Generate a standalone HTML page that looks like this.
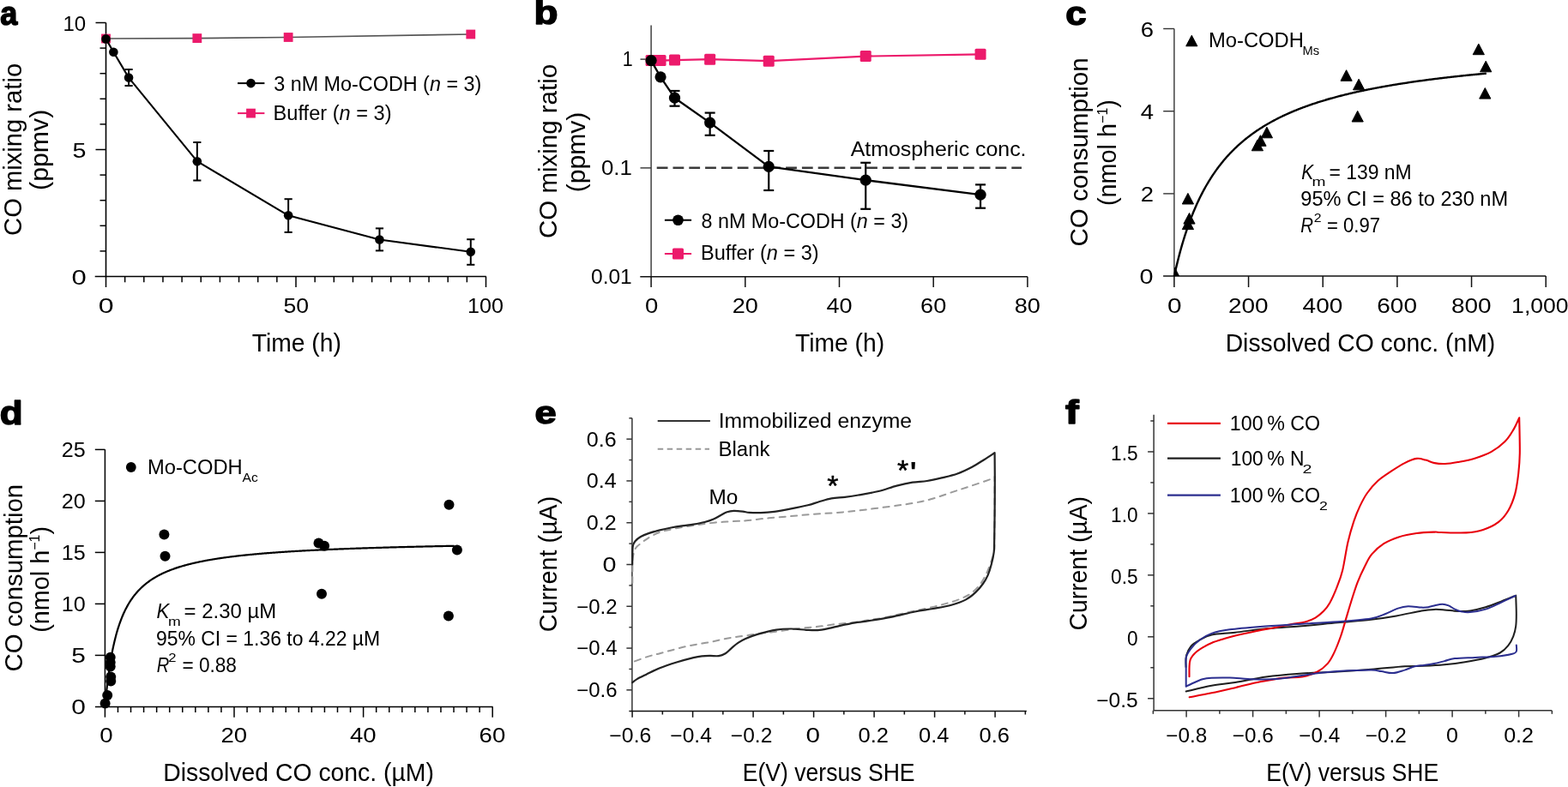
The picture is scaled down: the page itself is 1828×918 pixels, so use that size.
<!DOCTYPE html>
<html><head><meta charset="utf-8"><title>Figure</title>
<style>
html,body{margin:0;padding:0;background:#fff;overflow:hidden}
svg{display:block}
text{font-family:"Liberation Sans", Arial, sans-serif}
</style></head>
<body>
<svg width="1828" height="918" viewBox="0 0 1828 918">
<rect width="1828" height="918" fill="#fff"/>
<text x="0.28" y="28.6" font-size="39" fill="#000" font-weight="bold" textLength="20.07" lengthAdjust="spacingAndGlyphs" stroke="#000" stroke-width="1.5" stroke-linejoin="round">a</text>
<text x="622.43" y="28.4" font-size="39" fill="#000" font-weight="bold" textLength="28" lengthAdjust="spacingAndGlyphs" stroke="#000" stroke-width="1.5" stroke-linejoin="round">b</text>
<text x="1242.32" y="28.6" font-size="39" fill="#000" font-weight="bold" textLength="24.4" lengthAdjust="spacingAndGlyphs" stroke="#000" stroke-width="1.5" stroke-linejoin="round">c</text>
<text x="-0.27" y="494.6" font-size="39" fill="#000" font-weight="bold" textLength="26.83" lengthAdjust="spacingAndGlyphs" stroke="#000" stroke-width="1.5" stroke-linejoin="round">d</text>
<text x="623.47" y="494.4" font-size="37.5" fill="#000" font-weight="bold" textLength="25.16" lengthAdjust="spacingAndGlyphs" stroke="#000" stroke-width="1.5" stroke-linejoin="round">e</text>
<text x="1242.14" y="493.8" font-size="39" fill="#000" font-weight="bold" textLength="15.68" lengthAdjust="spacingAndGlyphs" stroke="#000" stroke-width="1.5" stroke-linejoin="round">f</text>
<line x1="123.5" y1="26.5" x2="123.5" y2="323.25" stroke="#000" stroke-width="1.6"/>
<line x1="110.7" y1="322.5" x2="566.8" y2="322.5" stroke="#000" stroke-width="1.6"/>
<line x1="116.5" y1="292.9" x2="123.5" y2="292.9" stroke="#000" stroke-width="1.5"/>
<line x1="116.5" y1="263.3" x2="123.5" y2="263.3" stroke="#000" stroke-width="1.5"/>
<line x1="116.5" y1="233.7" x2="123.5" y2="233.7" stroke="#000" stroke-width="1.5"/>
<line x1="116.5" y1="204.1" x2="123.5" y2="204.1" stroke="#000" stroke-width="1.5"/>
<line x1="111.5" y1="174.5" x2="123.5" y2="174.5" stroke="#000" stroke-width="1.5"/>
<line x1="116.5" y1="144.9" x2="123.5" y2="144.9" stroke="#000" stroke-width="1.5"/>
<line x1="116.5" y1="115.3" x2="123.5" y2="115.3" stroke="#000" stroke-width="1.5"/>
<line x1="116.5" y1="85.7" x2="123.5" y2="85.7" stroke="#000" stroke-width="1.5"/>
<line x1="116.5" y1="56.1" x2="123.5" y2="56.1" stroke="#000" stroke-width="1.5"/>
<line x1="111.5" y1="26.5" x2="123.5" y2="26.5" stroke="#000" stroke-width="1.5"/>
<line x1="123.5" y1="322.5" x2="123.5" y2="335" stroke="#000" stroke-width="1.5"/>
<line x1="145.65" y1="322.5" x2="145.65" y2="329.3" stroke="#000" stroke-width="1.5"/>
<line x1="167.8" y1="322.5" x2="167.8" y2="329.3" stroke="#000" stroke-width="1.5"/>
<line x1="189.95" y1="322.5" x2="189.95" y2="329.3" stroke="#000" stroke-width="1.5"/>
<line x1="212.1" y1="322.5" x2="212.1" y2="329.3" stroke="#000" stroke-width="1.5"/>
<line x1="234.25" y1="322.5" x2="234.25" y2="329.3" stroke="#000" stroke-width="1.5"/>
<line x1="256.4" y1="322.5" x2="256.4" y2="329.3" stroke="#000" stroke-width="1.5"/>
<line x1="278.55" y1="322.5" x2="278.55" y2="329.3" stroke="#000" stroke-width="1.5"/>
<line x1="300.7" y1="322.5" x2="300.7" y2="329.3" stroke="#000" stroke-width="1.5"/>
<line x1="322.85" y1="322.5" x2="322.85" y2="329.3" stroke="#000" stroke-width="1.5"/>
<line x1="345" y1="322.5" x2="345" y2="335" stroke="#000" stroke-width="1.5"/>
<line x1="367.15" y1="322.5" x2="367.15" y2="329.3" stroke="#000" stroke-width="1.5"/>
<line x1="389.3" y1="322.5" x2="389.3" y2="329.3" stroke="#000" stroke-width="1.5"/>
<line x1="411.45" y1="322.5" x2="411.45" y2="329.3" stroke="#000" stroke-width="1.5"/>
<line x1="433.6" y1="322.5" x2="433.6" y2="329.3" stroke="#000" stroke-width="1.5"/>
<line x1="455.75" y1="322.5" x2="455.75" y2="329.3" stroke="#000" stroke-width="1.5"/>
<line x1="477.9" y1="322.5" x2="477.9" y2="329.3" stroke="#000" stroke-width="1.5"/>
<line x1="500.05" y1="322.5" x2="500.05" y2="329.3" stroke="#000" stroke-width="1.5"/>
<line x1="522.2" y1="322.5" x2="522.2" y2="329.3" stroke="#000" stroke-width="1.5"/>
<line x1="544.35" y1="322.5" x2="544.35" y2="329.3" stroke="#000" stroke-width="1.5"/>
<line x1="566.5" y1="322.5" x2="566.5" y2="335" stroke="#000" stroke-width="1.5"/>
<text x="100.79" y="332.1" font-size="23" fill="#000" text-anchor="end" textLength="17.25" lengthAdjust="spacingAndGlyphs">0</text>
<text x="100.57" y="184.1" font-size="23" fill="#000" text-anchor="end" textLength="15.95" lengthAdjust="spacingAndGlyphs">5</text>
<text x="100.22" y="36.1" font-size="23" fill="#000" text-anchor="end" textLength="26.73" lengthAdjust="spacingAndGlyphs">10</text>
<text x="123.66" y="364.8" font-size="23" fill="#000" text-anchor="middle" textLength="17.84" lengthAdjust="spacingAndGlyphs">0</text>
<text x="345.24" y="364.8" font-size="23" fill="#000" text-anchor="middle" textLength="29.58" lengthAdjust="spacingAndGlyphs">50</text>
<text x="566.01" y="364.8" font-size="23" fill="#000" text-anchor="middle" textLength="41.89" lengthAdjust="spacingAndGlyphs">100</text>
<text x="345.81" y="409.6" font-size="28.8" fill="#000" text-anchor="middle" textLength="104.14" lengthAdjust="spacingAndGlyphs">Time (h)</text>
<text transform="translate(25.2,174.4) rotate(-90)" x="0" y="0" font-size="28.8" text-anchor="middle" textLength="201.04" lengthAdjust="spacingAndGlyphs">CO mixing ratio</text>
<text transform="translate(55.8,174.79) rotate(-90)" x="0" y="0" font-size="28.8" text-anchor="middle" textLength="94.27" lengthAdjust="spacingAndGlyphs">(ppmv)</text>
<polyline points="123.5,45 229.82,44.6 336.14,43.5 548.78,40" fill="none" stroke="#555" stroke-width="1.6" stroke-linejoin="round"/>
<rect x="118.1" y="39.6" width="10.8" height="10.8" rx="0" fill="#EC1A6B"/>
<rect x="224.42" y="39.2" width="10.8" height="10.8" rx="0" fill="#EC1A6B"/>
<rect x="330.74" y="38.1" width="10.8" height="10.8" rx="0" fill="#EC1A6B"/>
<rect x="543.38" y="34.6" width="10.8" height="10.8" rx="0" fill="#EC1A6B"/>
<polyline points="123.5,45.4 132.36,60.7 150.08,90.6 229.82,188.2 336.14,251.3 442.46,279.5 548.78,293.8" fill="none" stroke="#000" stroke-width="2.1" stroke-linejoin="round"/>
<circle cx="123.5" cy="45.4" r="5.3" fill="#000"/>
<circle cx="132.36" cy="60.7" r="5.3" fill="#000"/>
<line x1="150.08" y1="81" x2="150.08" y2="100" stroke="#000" stroke-width="2"/>
<line x1="145.48" y1="81" x2="154.68" y2="81" stroke="#000" stroke-width="2"/>
<line x1="145.48" y1="100" x2="154.68" y2="100" stroke="#000" stroke-width="2"/>
<circle cx="150.08" cy="90.6" r="5.3" fill="#000"/>
<line x1="229.82" y1="166" x2="229.82" y2="210.5" stroke="#000" stroke-width="2"/>
<line x1="225.22" y1="166" x2="234.42" y2="166" stroke="#000" stroke-width="2"/>
<line x1="225.22" y1="210.5" x2="234.42" y2="210.5" stroke="#000" stroke-width="2"/>
<circle cx="229.82" cy="188.2" r="5.3" fill="#000"/>
<line x1="336.14" y1="232.2" x2="336.14" y2="270.9" stroke="#000" stroke-width="2"/>
<line x1="331.54" y1="232.2" x2="340.74" y2="232.2" stroke="#000" stroke-width="2"/>
<line x1="331.54" y1="270.9" x2="340.74" y2="270.9" stroke="#000" stroke-width="2"/>
<circle cx="336.14" cy="251.3" r="5.3" fill="#000"/>
<line x1="442.46" y1="266.4" x2="442.46" y2="292.4" stroke="#000" stroke-width="2"/>
<line x1="437.86" y1="266.4" x2="447.06" y2="266.4" stroke="#000" stroke-width="2"/>
<line x1="437.86" y1="292.4" x2="447.06" y2="292.4" stroke="#000" stroke-width="2"/>
<circle cx="442.46" cy="279.5" r="5.3" fill="#000"/>
<line x1="548.78" y1="279.2" x2="548.78" y2="308.8" stroke="#000" stroke-width="2"/>
<line x1="544.18" y1="279.2" x2="553.38" y2="279.2" stroke="#000" stroke-width="2"/>
<line x1="544.18" y1="308.8" x2="553.38" y2="308.8" stroke="#000" stroke-width="2"/>
<circle cx="548.78" cy="293.8" r="5.3" fill="#000"/>
<line x1="277" y1="97.1" x2="308.4" y2="97.1" stroke="#000" stroke-width="2"/>
<circle cx="292.5" cy="97.1" r="5.3" fill="#000"/>
<line x1="277" y1="132.1" x2="308.4" y2="132.1" stroke="#EC1A6B" stroke-width="2"/>
<rect x="287.1" y="126.7" width="10.8" height="10.8" rx="0" fill="#EC1A6B"/>
<text x="319.16" y="105.9" font-size="23.3" fill="#000" textLength="242.17" lengthAdjust="spacingAndGlyphs">3 nM Mo-CODH (<tspan font-style="italic">n</tspan> = 3)</text>
<text x="318.61" y="140.4" font-size="23.3" fill="#000" textLength="137.96" lengthAdjust="spacingAndGlyphs">Buffer (<tspan font-style="italic">n</tspan> = 3)</text>
<line x1="759.1" y1="29.4" x2="759.1" y2="323.4" stroke="#333" stroke-width="1.4"/>
<line x1="746.3" y1="322.7" x2="1197.9" y2="322.7" stroke="#111" stroke-width="1.5"/>
<line x1="746.5" y1="69.1" x2="759.1" y2="69.1" stroke="#333" stroke-width="1.4"/>
<line x1="746.5" y1="195.9" x2="759.1" y2="195.9" stroke="#333" stroke-width="1.4"/>
<line x1="759.1" y1="322.7" x2="759.1" y2="335" stroke="#111" stroke-width="1.5"/>
<line x1="868.8" y1="322.7" x2="868.8" y2="335" stroke="#111" stroke-width="1.5"/>
<line x1="978.5" y1="322.7" x2="978.5" y2="335" stroke="#111" stroke-width="1.5"/>
<line x1="1088.2" y1="322.7" x2="1088.2" y2="335" stroke="#111" stroke-width="1.5"/>
<line x1="1197.9" y1="322.7" x2="1197.9" y2="335" stroke="#111" stroke-width="1.5"/>
<text x="737.56" y="77.3" font-size="23" fill="#000" text-anchor="end" textLength="11.93" lengthAdjust="spacingAndGlyphs">1</text>
<text x="736.86" y="204.1" font-size="23" fill="#000" text-anchor="end" textLength="35.96" lengthAdjust="spacingAndGlyphs">0.1</text>
<text x="736.78" y="331" font-size="23" fill="#000" text-anchor="end" textLength="47.77" lengthAdjust="spacingAndGlyphs">0.01</text>
<text x="759.62" y="364.8" font-size="23" fill="#000" text-anchor="middle" textLength="15.3" lengthAdjust="spacingAndGlyphs">0</text>
<text x="868.77" y="364.8" font-size="23" fill="#000" text-anchor="middle" textLength="30.14" lengthAdjust="spacingAndGlyphs">20</text>
<text x="978.47" y="364.8" font-size="23" fill="#000" text-anchor="middle" textLength="30.14" lengthAdjust="spacingAndGlyphs">40</text>
<text x="1088.17" y="364.8" font-size="23" fill="#000" text-anchor="middle" textLength="30.14" lengthAdjust="spacingAndGlyphs">60</text>
<text x="1197.87" y="364.8" font-size="23" fill="#000" text-anchor="middle" textLength="30.14" lengthAdjust="spacingAndGlyphs">80</text>
<text x="979.02" y="409.6" font-size="28.8" fill="#000" text-anchor="middle" textLength="104.14" lengthAdjust="spacingAndGlyphs">Time (h)</text>
<text transform="translate(649,176.4) rotate(-90)" x="0" y="0" font-size="28.8" text-anchor="middle" textLength="203.04" lengthAdjust="spacingAndGlyphs">CO mixing ratio</text>
<text transform="translate(681.6,177.5) rotate(-90)" x="0" y="0" font-size="28.8" text-anchor="middle" textLength="93.61" lengthAdjust="spacingAndGlyphs">(ppmv)</text>
<line x1="765.7" y1="195.8" x2="1191" y2="195.8" stroke="#3a3a3a" stroke-width="2.4" stroke-dasharray="12.8 6"/>
<text x="991.69" y="182" font-size="23.3" fill="#000" textLength="204.86" lengthAdjust="spacingAndGlyphs">Atmospheric conc.</text>
<polyline points="759.1,70.6 770.07,70.6 786.52,70.1 827.66,69.2 896.23,71.2 1009.22,65.6 1143.05,63.3" fill="none" stroke="#EC1A6B" stroke-width="2.2" stroke-linejoin="round"/>
<rect x="752.6" y="64.1" width="13" height="13" rx="1.5" fill="#EC1A6B"/>
<rect x="763.57" y="64.1" width="13" height="13" rx="1.5" fill="#EC1A6B"/>
<rect x="780.02" y="63.6" width="13" height="13" rx="1.5" fill="#EC1A6B"/>
<rect x="821.16" y="62.7" width="13" height="13" rx="1.5" fill="#EC1A6B"/>
<rect x="889.73" y="64.7" width="13" height="13" rx="1.5" fill="#EC1A6B"/>
<rect x="1002.72" y="59.1" width="13" height="13" rx="1.5" fill="#EC1A6B"/>
<rect x="1136.55" y="56.8" width="13" height="13" rx="1.5" fill="#EC1A6B"/>
<polyline points="759.1,70.6 770.07,89.8 786.52,114.2 827.66,143.1 896.23,194.4 1009.22,210.1 1143.05,227.2" fill="none" stroke="#000" stroke-width="2.3" stroke-linejoin="round"/>
<circle cx="759.1" cy="70.6" r="6.6" fill="#000"/>
<circle cx="770.07" cy="89.8" r="6.6" fill="#000"/>
<line x1="786.52" y1="106" x2="786.52" y2="123.7" stroke="#000" stroke-width="2.2"/>
<line x1="780.52" y1="106" x2="792.52" y2="106" stroke="#000" stroke-width="2.2"/>
<line x1="780.52" y1="123.7" x2="792.52" y2="123.7" stroke="#000" stroke-width="2.2"/>
<circle cx="786.52" cy="114.2" r="6.6" fill="#000"/>
<line x1="827.66" y1="131.6" x2="827.66" y2="157.8" stroke="#000" stroke-width="2.2"/>
<line x1="821.66" y1="131.6" x2="833.66" y2="131.6" stroke="#000" stroke-width="2.2"/>
<line x1="821.66" y1="157.8" x2="833.66" y2="157.8" stroke="#000" stroke-width="2.2"/>
<circle cx="827.66" cy="143.1" r="6.6" fill="#000"/>
<line x1="896.23" y1="176" x2="896.23" y2="222" stroke="#000" stroke-width="2.2"/>
<line x1="890.23" y1="176" x2="902.23" y2="176" stroke="#000" stroke-width="2.2"/>
<line x1="890.23" y1="222" x2="902.23" y2="222" stroke="#000" stroke-width="2.2"/>
<circle cx="896.23" cy="194.4" r="6.6" fill="#000"/>
<line x1="1009.22" y1="189.8" x2="1009.22" y2="243.8" stroke="#000" stroke-width="2.2"/>
<line x1="1003.22" y1="189.8" x2="1015.22" y2="189.8" stroke="#000" stroke-width="2.2"/>
<line x1="1003.22" y1="243.8" x2="1015.22" y2="243.8" stroke="#000" stroke-width="2.2"/>
<circle cx="1009.22" cy="210.1" r="6.6" fill="#000"/>
<line x1="1143.05" y1="215.4" x2="1143.05" y2="242.7" stroke="#000" stroke-width="2.2"/>
<line x1="1137.05" y1="215.4" x2="1149.05" y2="215.4" stroke="#000" stroke-width="2.2"/>
<line x1="1137.05" y1="242.7" x2="1149.05" y2="242.7" stroke="#000" stroke-width="2.2"/>
<circle cx="1143.05" cy="227.2" r="6.6" fill="#000"/>
<line x1="774.9" y1="256.8" x2="806.1" y2="256.8" stroke="#000" stroke-width="2"/>
<circle cx="790.5" cy="256.8" r="6.3" fill="#000"/>
<line x1="774.9" y1="296.1" x2="806.1" y2="296.1" stroke="#EC1A6B" stroke-width="2"/>
<rect x="784" y="289.6" width="13" height="13" rx="1.5" fill="#EC1A6B"/>
<text x="817.47" y="266" font-size="23.3" fill="#000" textLength="241.66" lengthAdjust="spacingAndGlyphs">8 nM Mo-CODH (<tspan font-style="italic">n</tspan> = 3)</text>
<text x="817.03" y="303.3" font-size="23.3" fill="#000" textLength="137.64" lengthAdjust="spacingAndGlyphs">Buffer (<tspan font-style="italic">n</tspan> = 3)</text>
<line x1="1368.9" y1="33.5" x2="1368.9" y2="322.8" stroke="#333" stroke-width="1.4"/>
<line x1="1356.1" y1="322.1" x2="1802.2" y2="322.1" stroke="#111" stroke-width="1.5"/>
<line x1="1356.2" y1="225.9" x2="1368.9" y2="225.9" stroke="#333" stroke-width="1.4"/>
<line x1="1356.2" y1="129.7" x2="1368.9" y2="129.7" stroke="#333" stroke-width="1.4"/>
<line x1="1356.2" y1="33.5" x2="1368.9" y2="33.5" stroke="#333" stroke-width="1.4"/>
<line x1="1368.9" y1="322.1" x2="1368.9" y2="335" stroke="#111" stroke-width="1.5"/>
<line x1="1455.56" y1="322.1" x2="1455.56" y2="335" stroke="#111" stroke-width="1.5"/>
<line x1="1542.22" y1="322.1" x2="1542.22" y2="335" stroke="#111" stroke-width="1.5"/>
<line x1="1628.88" y1="322.1" x2="1628.88" y2="335" stroke="#111" stroke-width="1.5"/>
<line x1="1715.54" y1="322.1" x2="1715.54" y2="335" stroke="#111" stroke-width="1.5"/>
<line x1="1802.2" y1="322.1" x2="1802.2" y2="335" stroke="#111" stroke-width="1.5"/>
<text x="1344.57" y="331.3" font-size="23" fill="#000" text-anchor="end" textLength="16.01" lengthAdjust="spacingAndGlyphs">0</text>
<text x="1344.92" y="235.1" font-size="23" fill="#000" text-anchor="end" textLength="15.26" lengthAdjust="spacingAndGlyphs">2</text>
<text x="1344.92" y="138.9" font-size="23" fill="#000" text-anchor="end" textLength="15.26" lengthAdjust="spacingAndGlyphs">4</text>
<text x="1344.92" y="42.7" font-size="23" fill="#000" text-anchor="end" textLength="15.26" lengthAdjust="spacingAndGlyphs">6</text>
<text x="1369.42" y="364.6" font-size="23" fill="#000" text-anchor="middle" textLength="16.58" lengthAdjust="spacingAndGlyphs">0</text>
<text x="1455.29" y="364.6" font-size="23" fill="#000" text-anchor="middle" textLength="46.67" lengthAdjust="spacingAndGlyphs">200</text>
<text x="1541.95" y="364.6" font-size="23" fill="#000" text-anchor="middle" textLength="46.67" lengthAdjust="spacingAndGlyphs">400</text>
<text x="1628.61" y="364.6" font-size="23" fill="#000" text-anchor="middle" textLength="46.67" lengthAdjust="spacingAndGlyphs">600</text>
<text x="1715.27" y="364.6" font-size="23" fill="#000" text-anchor="middle" textLength="46.67" lengthAdjust="spacingAndGlyphs">800</text>
<text x="1828.6" y="364.6" font-size="23" fill="#000" text-anchor="end" textLength="66.47" lengthAdjust="spacingAndGlyphs">1,000</text>
<text x="1585.95" y="409.6" font-size="28.8" fill="#000" text-anchor="middle" textLength="314.58" lengthAdjust="spacingAndGlyphs">Dissolved CO conc. (nM)</text>
<text transform="translate(1267.8,177.5) rotate(-90)" x="0" y="0" font-size="28.8" text-anchor="middle" textLength="220.15" lengthAdjust="spacingAndGlyphs">CO consumption</text>
<text transform="translate(1301,178.05) rotate(-90)" x="0" y="0" font-size="28.8" text-anchor="middle">(nmol h<tspan font-size="16" dy="-10.5">−1</tspan><tspan dy="10.5">)</tspan></text>
<clipPath id="clipc"><rect x="1369" y="20" width="440" height="302.1"/></clipPath>
<polyline points="1368.9,322.1 1369.77,318.19 1370.63,314.39 1371.5,310.7 1372.37,307.1 1373.23,303.6 1374.1,300.2 1374.97,296.88 1375.83,293.65 1376.7,290.5 1377.57,287.43 1378.43,284.44 1379.3,281.52 1380.17,278.67 1381.03,275.89 1381.9,273.17 1382.77,270.52 1383.63,267.93 1384.5,265.4 1385.37,262.93 1386.23,260.51 1387.1,258.15 1387.97,255.83 1388.83,253.57 1389.7,251.35 1390.57,249.19 1391.43,247.06 1392.3,244.99 1393.16,242.95 1394.03,240.96 1394.9,239 1395.76,237.09 1396.63,235.21 1397.5,233.37 1398.36,231.56 1399.23,229.79 1400.1,228.05 1400.96,226.35 1401.83,224.67 1402.7,223.03 1403.56,221.42 1404.43,219.84 1405.3,218.28 1406.16,216.75 1407.03,215.25 1407.9,213.78 1408.76,212.33 1409.63,210.91 1410.5,209.51 1411.36,208.13 1412.23,206.78 1413.1,205.45 1413.96,204.14 1414.83,202.86 1415.7,201.59 1416.56,200.34 1417.43,199.12 1418.3,197.91 1419.16,196.72 1420.03,195.55 1420.9,194.4 1421.76,193.27 1422.63,192.15 1423.5,191.05 1424.36,189.97 1425.23,188.9 1426.1,187.85 1426.96,186.82 1427.83,185.8 1428.7,184.79 1429.56,183.8 1430.43,182.82 1431.3,181.86 1432.16,180.91 1433.03,179.97 1433.89,179.05 1434.76,178.14 1435.63,177.24 1436.49,176.35 1437.36,175.48 1438.23,174.61 1439.09,173.76 1439.96,172.92 1440.83,172.09 1441.69,171.28 1442.56,170.47 1443.43,169.67 1444.29,168.88 1445.16,168.11 1446.03,167.34 1446.89,166.58 1447.76,165.83 1448.63,165.09 1449.49,164.36 1450.36,163.64 1451.23,162.93 1452.09,162.23 1452.96,161.53 1453.83,160.85 1454.69,160.17 1455.56,159.5 1456.43,158.83 1457.29,158.18 1458.16,157.53 1459.03,156.89 1459.89,156.26 1460.76,155.63 1461.63,155.01 1462.49,154.4 1463.36,153.8 1464.23,153.2 1465.09,152.61 1465.96,152.02 1466.83,151.45 1467.69,150.87 1468.56,150.31 1469.43,149.75 1470.29,149.2 1471.16,148.65 1472.03,148.11 1472.89,147.57 1473.76,147.04 1474.63,146.51 1475.49,145.99 1476.36,145.48 1477.23,144.97 1478.09,144.47 1478.96,143.97 1479.82,143.47 1480.69,142.99 1481.56,142.5 1482.42,142.02 1483.29,141.55 1484.16,141.08 1485.02,140.62 1485.89,140.15 1486.76,139.7 1487.62,139.25 1488.49,138.8 1489.36,138.36 1490.22,137.92 1491.09,137.49 1491.96,137.05 1492.82,136.63 1493.69,136.21 1494.56,135.79 1495.42,135.37 1496.29,134.96 1497.16,134.56 1498.02,134.15 1498.89,133.75 1499.76,133.36 1500.62,132.97 1501.49,132.58 1502.36,132.19 1503.22,131.81 1504.09,131.43 1504.96,131.06 1505.82,130.69 1506.69,130.32 1507.56,129.95 1508.42,129.59 1509.29,129.23 1510.16,128.87 1511.02,128.52 1511.89,128.17 1512.76,127.83 1513.62,127.48 1514.49,127.14 1515.36,126.8 1516.22,126.47 1517.09,126.13 1517.96,125.8 1518.82,125.48 1519.69,125.15 1520.56,124.83 1521.42,124.51 1522.29,124.2 1523.15,123.88 1524.02,123.57 1524.89,123.26 1525.75,122.95 1526.62,122.65 1527.49,122.35 1528.35,122.05 1529.22,121.75 1530.09,121.46 1530.95,121.17 1531.82,120.88 1532.69,120.59 1533.55,120.3 1534.42,120.02 1535.29,119.74 1536.15,119.46 1537.02,119.18 1537.89,118.91 1538.75,118.63 1539.62,118.36 1540.49,118.09 1541.35,117.83 1542.22,117.56 1543.09,117.3 1543.95,117.04 1544.82,116.78 1545.69,116.52 1546.55,116.27 1547.42,116.02 1548.29,115.76 1549.15,115.51 1550.02,115.27 1550.89,115.02 1551.75,114.78 1552.62,114.53 1553.49,114.29 1554.35,114.05 1555.22,113.82 1556.09,113.58 1556.95,113.35 1557.82,113.11 1558.69,112.88 1559.55,112.65 1560.42,112.43 1561.29,112.2 1562.15,111.97 1563.02,111.75 1563.89,111.53 1564.75,111.31 1565.62,111.09 1566.48,110.87 1567.35,110.66 1568.22,110.44 1569.08,110.23 1569.95,110.02 1570.82,109.81 1571.68,109.6 1572.55,109.39 1573.42,109.19 1574.28,108.98 1575.15,108.78 1576.02,108.58 1576.88,108.38 1577.75,108.18 1578.62,107.98 1579.48,107.78 1580.35,107.59 1581.22,107.39 1582.08,107.2 1582.95,107.01 1583.82,106.82 1584.68,106.63 1585.55,106.44 1586.42,106.25 1587.28,106.07 1588.15,105.88 1589.02,105.7 1589.88,105.52 1590.75,105.34 1591.62,105.16 1592.48,104.98 1593.35,104.8 1594.22,104.62 1595.08,104.44 1595.95,104.27 1596.82,104.1 1597.68,103.92 1598.55,103.75 1599.42,103.58 1600.28,103.41 1601.15,103.24 1602.02,103.08 1602.88,102.91 1603.75,102.74 1604.62,102.58 1605.48,102.41 1606.35,102.25 1607.22,102.09 1608.08,101.93 1608.95,101.77 1609.81,101.61 1610.68,101.45 1611.55,101.29 1612.41,101.14 1613.28,100.98 1614.15,100.83 1615.01,100.67 1615.88,100.52 1616.75,100.37 1617.61,100.22 1618.48,100.07 1619.35,99.92 1620.21,99.77 1621.08,99.62 1621.95,99.47 1622.81,99.33 1623.68,99.18 1624.55,99.04 1625.41,98.89 1626.28,98.75 1627.15,98.61 1628.01,98.47 1628.88,98.33 1629.75,98.19 1630.61,98.05 1631.48,97.91 1632.35,97.77 1633.21,97.64 1634.08,97.5 1634.95,97.36 1635.81,97.23 1636.68,97.09 1637.55,96.96 1638.41,96.83 1639.28,96.7 1640.15,96.57 1641.01,96.44 1641.88,96.31 1642.75,96.18 1643.61,96.05 1644.48,95.92 1645.35,95.79 1646.21,95.67 1647.08,95.54 1647.95,95.41 1648.81,95.29 1649.68,95.17 1650.55,95.04 1651.41,94.92 1652.28,94.8 1653.14,94.68 1654.01,94.56 1654.88,94.43 1655.74,94.31 1656.61,94.2 1657.48,94.08 1658.34,93.96 1659.21,93.84 1660.08,93.73 1660.94,93.61 1661.81,93.49 1662.68,93.38 1663.54,93.26 1664.41,93.15 1665.28,93.04 1666.14,92.92 1667.01,92.81 1667.88,92.7 1668.74,92.59 1669.61,92.48 1670.48,92.37 1671.34,92.26 1672.21,92.15 1673.08,92.04 1673.94,91.93 1674.81,91.82 1675.68,91.72 1676.54,91.61 1677.41,91.5 1678.28,91.4 1679.14,91.29 1680.01,91.19 1680.88,91.09 1681.74,90.98 1682.61,90.88 1683.48,90.78 1684.34,90.67 1685.21,90.57 1686.08,90.47 1686.94,90.37 1687.81,90.27 1688.68,90.17 1689.54,90.07 1690.41,89.97 1691.28,89.87 1692.14,89.78 1693.01,89.68 1693.88,89.58 1694.74,89.48 1695.61,89.39 1696.47,89.29 1697.34,89.2 1698.21,89.1 1699.07,89.01 1699.94,88.91 1700.81,88.82 1701.67,88.73 1702.54,88.63 1703.41,88.54 1704.27,88.45 1705.14,88.36 1706.01,88.26 1706.87,88.17 1707.74,88.08 1708.61,87.99 1709.47,87.9 1710.34,87.81 1711.21,87.73 1712.07,87.64 1712.94,87.55 1713.81,87.46 1714.67,87.37 1715.54,87.29 1716.41,87.2 1717.27,87.11 1718.14,87.03 1719.01,86.94 1719.87,86.86 1720.74,86.77 1721.61,86.69 1722.47,86.6 1723.34,86.52 1724.21,86.44 1725.07,86.35 1725.94,86.27 1726.81,86.19 1727.67,86.1 1728.54,86.02 1729.41,85.94 1730.27,85.86 1731.14,85.78 1732.01,85.7 1732.87,85.62" fill="none" stroke="#000" stroke-width="2.4" stroke-linejoin="round"/>
<polygon points="1384.9,225.4 1391.5,238 1378.3,238" fill="#000" stroke="#000" stroke-width="1" stroke-linejoin="round"/>
<polygon points="1386.5,248.5 1393.1,261.1 1379.9,261.1" fill="#000" stroke="#000" stroke-width="1" stroke-linejoin="round"/>
<polygon points="1384.9,255 1391.5,267.6 1378.3,267.6" fill="#000" stroke="#000" stroke-width="1" stroke-linejoin="round"/>
<polygon points="1476.9,148.2 1483.5,160.8 1470.3,160.8" fill="#000" stroke="#000" stroke-width="1" stroke-linejoin="round"/>
<polygon points="1469.5,157.7 1476.1,170.3 1462.9,170.3" fill="#000" stroke="#000" stroke-width="1" stroke-linejoin="round"/>
<polygon points="1465.9,163.2 1472.5,175.8 1459.3,175.8" fill="#000" stroke="#000" stroke-width="1" stroke-linejoin="round"/>
<polygon points="1569.6,81.7 1576.2,94.3 1563,94.3" fill="#000" stroke="#000" stroke-width="1" stroke-linejoin="round"/>
<polygon points="1584.1,92.2 1590.7,104.8 1577.5,104.8" fill="#000" stroke="#000" stroke-width="1" stroke-linejoin="round"/>
<polygon points="1582.7,129.4 1589.3,142 1576.1,142" fill="#000" stroke="#000" stroke-width="1" stroke-linejoin="round"/>
<polygon points="1723.8,51.1 1730.4,63.7 1717.2,63.7" fill="#000" stroke="#000" stroke-width="1" stroke-linejoin="round"/>
<polygon points="1732.2,71.2 1738.8,83.8 1725.6,83.8" fill="#000" stroke="#000" stroke-width="1" stroke-linejoin="round"/>
<polygon points="1731.3,102.5 1737.9,115.1 1724.7,115.1" fill="#000" stroke="#000" stroke-width="1" stroke-linejoin="round"/>
<polygon points="1369.5,312.2 1376.1,324.8 1362.9,324.8" fill="#000" stroke="#000" stroke-width="1" stroke-linejoin="round" clip-path="url(#clipc)"/>
<polygon points="1389.3,41.2 1395.9,53.8 1382.7,53.8" fill="#000" stroke="#000" stroke-width="1" stroke-linejoin="round"/>
<text x="1409" y="55.2" font-size="23.3" fill="#000" textLength="110.85" lengthAdjust="spacingAndGlyphs">Mo-CODH</text>
<text x="1518.42" y="63.8" font-size="14" fill="#000" textLength="19.59" lengthAdjust="spacingAndGlyphs">Ms</text>
<text x="1517.2" y="209.2" font-size="23.3" fill="#000" font-style="italic" textLength="13.97" lengthAdjust="spacingAndGlyphs">K</text>
<text x="1529.62" y="216.7" font-size="14" fill="#000" textLength="15.99" lengthAdjust="spacingAndGlyphs">m</text>
<text x="1549.4" y="209.2" font-size="23.3" fill="#000" textLength="96.25" lengthAdjust="spacingAndGlyphs">= 139 nM</text>
<text x="1516.27" y="239.7" font-size="23.3" fill="#000" textLength="241.88" lengthAdjust="spacingAndGlyphs">95% CI = 86 to 230 nM</text>
<text x="1516.2" y="270.6" font-size="23.3" fill="#000" font-style="italic" textLength="14.77" lengthAdjust="spacingAndGlyphs">R</text>
<text x="1531.76" y="258.7" font-size="14" fill="#000" textLength="8.81" lengthAdjust="spacingAndGlyphs">2</text>
<text x="1546.9" y="270.6" font-size="23.3" fill="#000" textLength="62.08" lengthAdjust="spacingAndGlyphs">= 0.97</text>
<line x1="122.4" y1="524.2" x2="122.4" y2="825.1" stroke="#000" stroke-width="1.5"/>
<line x1="110.9" y1="824.4" x2="574.6" y2="824.4" stroke="#000" stroke-width="1.5"/>
<line x1="110.8" y1="764.4" x2="122.4" y2="764.4" stroke="#000" stroke-width="1.5"/>
<line x1="110.8" y1="704.4" x2="122.4" y2="704.4" stroke="#000" stroke-width="1.5"/>
<line x1="110.8" y1="644.4" x2="122.4" y2="644.4" stroke="#000" stroke-width="1.5"/>
<line x1="110.8" y1="584.4" x2="122.4" y2="584.4" stroke="#000" stroke-width="1.5"/>
<line x1="110.8" y1="524.4" x2="122.4" y2="524.4" stroke="#000" stroke-width="1.5"/>
<line x1="122.4" y1="824.4" x2="122.4" y2="836.7" stroke="#000" stroke-width="1.5"/>
<line x1="137.46" y1="824.4" x2="137.46" y2="831" stroke="#000" stroke-width="1.5"/>
<line x1="152.52" y1="824.4" x2="152.52" y2="831" stroke="#000" stroke-width="1.5"/>
<line x1="167.58" y1="824.4" x2="167.58" y2="831" stroke="#000" stroke-width="1.5"/>
<line x1="182.64" y1="824.4" x2="182.64" y2="831" stroke="#000" stroke-width="1.5"/>
<line x1="197.7" y1="824.4" x2="197.7" y2="831" stroke="#000" stroke-width="1.5"/>
<line x1="212.76" y1="824.4" x2="212.76" y2="831" stroke="#000" stroke-width="1.5"/>
<line x1="227.82" y1="824.4" x2="227.82" y2="831" stroke="#000" stroke-width="1.5"/>
<line x1="242.88" y1="824.4" x2="242.88" y2="831" stroke="#000" stroke-width="1.5"/>
<line x1="257.94" y1="824.4" x2="257.94" y2="831" stroke="#000" stroke-width="1.5"/>
<line x1="273" y1="824.4" x2="273" y2="836.7" stroke="#000" stroke-width="1.5"/>
<line x1="288.06" y1="824.4" x2="288.06" y2="831" stroke="#000" stroke-width="1.5"/>
<line x1="303.12" y1="824.4" x2="303.12" y2="831" stroke="#000" stroke-width="1.5"/>
<line x1="318.18" y1="824.4" x2="318.18" y2="831" stroke="#000" stroke-width="1.5"/>
<line x1="333.24" y1="824.4" x2="333.24" y2="831" stroke="#000" stroke-width="1.5"/>
<line x1="348.3" y1="824.4" x2="348.3" y2="831" stroke="#000" stroke-width="1.5"/>
<line x1="363.36" y1="824.4" x2="363.36" y2="831" stroke="#000" stroke-width="1.5"/>
<line x1="378.42" y1="824.4" x2="378.42" y2="831" stroke="#000" stroke-width="1.5"/>
<line x1="393.48" y1="824.4" x2="393.48" y2="831" stroke="#000" stroke-width="1.5"/>
<line x1="408.54" y1="824.4" x2="408.54" y2="831" stroke="#000" stroke-width="1.5"/>
<line x1="423.6" y1="824.4" x2="423.6" y2="836.7" stroke="#000" stroke-width="1.5"/>
<line x1="438.66" y1="824.4" x2="438.66" y2="831" stroke="#000" stroke-width="1.5"/>
<line x1="453.72" y1="824.4" x2="453.72" y2="831" stroke="#000" stroke-width="1.5"/>
<line x1="468.78" y1="824.4" x2="468.78" y2="831" stroke="#000" stroke-width="1.5"/>
<line x1="483.84" y1="824.4" x2="483.84" y2="831" stroke="#000" stroke-width="1.5"/>
<line x1="498.9" y1="824.4" x2="498.9" y2="831" stroke="#000" stroke-width="1.5"/>
<line x1="513.96" y1="824.4" x2="513.96" y2="831" stroke="#000" stroke-width="1.5"/>
<line x1="529.02" y1="824.4" x2="529.02" y2="831" stroke="#000" stroke-width="1.5"/>
<line x1="544.08" y1="824.4" x2="544.08" y2="831" stroke="#000" stroke-width="1.5"/>
<line x1="559.14" y1="824.4" x2="559.14" y2="831" stroke="#000" stroke-width="1.5"/>
<line x1="574.2" y1="824.4" x2="574.2" y2="836.7" stroke="#000" stroke-width="1.5"/>
<text x="99.95" y="833.2" font-size="23" fill="#000" text-anchor="end" textLength="16.62" lengthAdjust="spacingAndGlyphs">0</text>
<text x="99.95" y="773.2" font-size="23" fill="#000" text-anchor="end" textLength="16.62" lengthAdjust="spacingAndGlyphs">5</text>
<text x="99.63" y="713.2" font-size="23" fill="#000" text-anchor="end" textLength="27.95" lengthAdjust="spacingAndGlyphs">10</text>
<text x="99.63" y="653.2" font-size="23" fill="#000" text-anchor="end" textLength="27.95" lengthAdjust="spacingAndGlyphs">15</text>
<text x="99.63" y="593.2" font-size="23" fill="#000" text-anchor="end" textLength="27.95" lengthAdjust="spacingAndGlyphs">20</text>
<text x="99.63" y="533.2" font-size="23" fill="#000" text-anchor="end" textLength="27.95" lengthAdjust="spacingAndGlyphs">25</text>
<text x="124.01" y="865.6" font-size="23" fill="#000" text-anchor="middle" textLength="15.39" lengthAdjust="spacingAndGlyphs">0</text>
<text x="272.75" y="865.6" font-size="23" fill="#000" text-anchor="middle" textLength="30.68" lengthAdjust="spacingAndGlyphs">20</text>
<text x="423.35" y="865.6" font-size="23" fill="#000" text-anchor="middle" textLength="30.68" lengthAdjust="spacingAndGlyphs">40</text>
<text x="573.95" y="865.6" font-size="23" fill="#000" text-anchor="middle" textLength="30.68" lengthAdjust="spacingAndGlyphs">60</text>
<text x="348.04" y="910.8" font-size="28.8" fill="#000" text-anchor="middle" textLength="315.58" lengthAdjust="spacingAndGlyphs">Dissolved CO conc. (µM)</text>
<text transform="translate(25.5,674.24) rotate(-90)" x="0" y="0" font-size="28.8" text-anchor="middle" textLength="218.6" lengthAdjust="spacingAndGlyphs">CO consumption</text>
<text transform="translate(56.6,675.85) rotate(-90)" x="0" y="0" font-size="28.8" text-anchor="middle">(nmol h<tspan font-size="16" dy="-10.5">−1</tspan><tspan dy="10.5">)</tspan></text>
<polyline points="122.4,824.4 123.15,816.25 123.91,808.75 124.66,801.83 125.41,795.42 126.17,789.47 126.92,783.93 127.67,778.76 128.42,773.92 129.18,769.39 129.93,765.13 130.68,761.12 131.44,757.34 132.19,753.77 132.94,750.39 133.69,747.19 134.45,744.15 135.2,741.27 135.95,738.53 136.71,735.91 137.46,733.42 138.21,731.05 138.97,728.77 139.72,726.6 140.47,724.52 141.22,722.52 141.98,720.61 142.73,718.78 143.48,717.01 144.24,715.32 144.99,713.68 145.74,712.11 146.5,710.6 147.25,709.14 148,707.73 148.75,706.37 149.51,705.05 150.26,703.78 151.01,702.55 151.77,701.36 152.52,700.21 153.27,699.09 154.03,698.01 154.78,696.96 155.53,695.95 156.28,694.96 157.04,694 157.79,693.07 158.54,692.16 159.3,691.28 160.05,690.43 160.8,689.59 161.56,688.78 162.31,687.99 163.06,687.23 163.81,686.48 164.57,685.75 165.32,685.03 166.07,684.34 166.83,683.66 167.58,683 168.33,682.36 169.09,681.73 169.84,681.11 170.59,680.51 171.34,679.92 172.1,679.35 172.85,678.79 173.6,678.24 174.36,677.7 175.11,677.17 175.86,676.66 176.62,676.16 177.37,675.66 178.12,675.18 178.88,674.71 179.63,674.24 180.38,673.79 181.13,673.34 181.89,672.91 182.64,672.48 183.39,672.06 184.15,671.65 184.9,671.24 185.65,670.84 186.41,670.46 187.16,670.07 187.91,669.7 188.66,669.33 189.42,668.97 190.17,668.61 190.92,668.26 191.68,667.92 192.43,667.58 193.18,667.25 193.94,666.93 194.69,666.61 195.44,666.29 196.19,665.98 196.95,665.68 197.7,665.38 198.45,665.08 199.21,664.79 199.96,664.5 200.71,664.22 201.47,663.95 202.22,663.67 202.97,663.41 203.72,663.14 204.48,662.88 205.23,662.63 205.98,662.37 206.74,662.12 207.49,661.88 208.24,661.64 209,661.4 209.75,661.17 210.5,660.93 211.25,660.71 212.01,660.48 212.76,660.26 213.51,660.04 214.27,659.83 215.02,659.61 215.77,659.4 216.53,659.2 217.28,658.99 218.03,658.79 218.78,658.59 219.54,658.4 220.29,658.2 221.04,658.01 221.8,657.82 222.55,657.64 223.3,657.45 224.06,657.27 224.81,657.09 225.56,656.92 226.31,656.74 227.07,656.57 227.82,656.4 228.57,656.23 229.33,656.07 230.08,655.9 230.83,655.74 231.59,655.58 232.34,655.42 233.09,655.26 233.84,655.11 234.6,654.96 235.35,654.8 236.1,654.66 236.86,654.51 237.61,654.36 238.36,654.22 239.12,654.07 239.87,653.93 240.62,653.79 241.37,653.66 242.13,653.52 242.88,653.38 243.63,653.25 244.39,653.12 245.14,652.99 245.89,652.86 246.65,652.73 247.4,652.6 248.15,652.48 248.9,652.35 249.66,652.23 250.41,652.11 251.16,651.99 251.92,651.87 252.67,651.75 253.42,651.64 254.18,651.52 254.93,651.41 255.68,651.29 256.43,651.18 257.19,651.07 257.94,650.96 258.69,650.85 259.45,650.75 260.2,650.64 260.95,650.53 261.71,650.43 262.46,650.33 263.21,650.22 263.96,650.12 264.72,650.02 265.47,649.92 266.22,649.82 266.98,649.72 267.73,649.63 268.48,649.53 269.24,649.44 269.99,649.34 270.74,649.25 271.49,649.16 272.25,649.06 273,648.97 273.75,648.88 274.51,648.79 275.26,648.71 276.01,648.62 276.76,648.53 277.52,648.45 278.27,648.36 279.02,648.28 279.78,648.19 280.53,648.11 281.28,648.03 282.04,647.94 282.79,647.86 283.54,647.78 284.3,647.7 285.05,647.62 285.8,647.54 286.55,647.47 287.31,647.39 288.06,647.31 288.81,647.24 289.57,647.16 290.32,647.09 291.07,647.01 291.83,646.94 292.58,646.87 293.33,646.8 294.08,646.72 294.84,646.65 295.59,646.58 296.34,646.51 297.1,646.44 297.85,646.37 298.6,646.31 299.36,646.24 300.11,646.17 300.86,646.1 301.61,646.04 302.37,645.97 303.12,645.91 303.87,645.84 304.63,645.78 305.38,645.71 306.13,645.65 306.88,645.59 307.64,645.52 308.39,645.46 309.14,645.4 309.9,645.34 310.65,645.28 311.4,645.22 312.16,645.16 312.91,645.1 313.66,645.04 314.42,644.98 315.17,644.92 315.92,644.87 316.67,644.81 317.43,644.75 318.18,644.7 318.93,644.64 319.69,644.59 320.44,644.53 321.19,644.48 321.95,644.42 322.7,644.37 323.45,644.31 324.2,644.26 324.96,644.21 325.71,644.15 326.46,644.1 327.22,644.05 327.97,644 328.72,643.95 329.48,643.9 330.23,643.85 330.98,643.8 331.73,643.75 332.49,643.7 333.24,643.65 333.99,643.6 334.75,643.55 335.5,643.5 336.25,643.45 337,643.41 337.76,643.36 338.51,643.31 339.26,643.27 340.02,643.22 340.77,643.17 341.52,643.13 342.28,643.08 343.03,643.04 343.78,642.99 344.54,642.95 345.29,642.9 346.04,642.86 346.79,642.81 347.55,642.77 348.3,642.73 349.05,642.69 349.81,642.64 350.56,642.6 351.31,642.56 352.07,642.52 352.82,642.47 353.57,642.43 354.32,642.39 355.08,642.35 355.83,642.31 356.58,642.27 357.34,642.23 358.09,642.19 358.84,642.15 359.6,642.11 360.35,642.07 361.1,642.03 361.85,641.99 362.61,641.95 363.36,641.92 364.11,641.88 364.87,641.84 365.62,641.8 366.37,641.76 367.12,641.73 367.88,641.69 368.63,641.65 369.38,641.62 370.14,641.58 370.89,641.54 371.64,641.51 372.4,641.47 373.15,641.44 373.9,641.4 374.65,641.37 375.41,641.33 376.16,641.3 376.91,641.26 377.67,641.23 378.42,641.19 379.17,641.16 379.93,641.13 380.68,641.09 381.43,641.06 382.19,641.02 382.94,640.99 383.69,640.96 384.44,640.93 385.2,640.89 385.95,640.86 386.7,640.83 387.46,640.8 388.21,640.76 388.96,640.73 389.72,640.7 390.47,640.67 391.22,640.64 391.97,640.61 392.73,640.58 393.48,640.55 394.23,640.52 394.99,640.49 395.74,640.45 396.49,640.42 397.25,640.39 398,640.37 398.75,640.34 399.5,640.31 400.26,640.28 401.01,640.25 401.76,640.22 402.52,640.19 403.27,640.16 404.02,640.13 404.77,640.1 405.53,640.08 406.28,640.05 407.03,640.02 407.79,639.99 408.54,639.96 409.29,639.94 410.05,639.91 410.8,639.88 411.55,639.85 412.31,639.83 413.06,639.8 413.81,639.77 414.56,639.75 415.32,639.72 416.07,639.69 416.82,639.67 417.58,639.64 418.33,639.61 419.08,639.59 419.84,639.56 420.59,639.54 421.34,639.51 422.09,639.49 422.85,639.46 423.6,639.44 424.35,639.41 425.11,639.39 425.86,639.36 426.61,639.34 427.37,639.31 428.12,639.29 428.87,639.26 429.62,639.24 430.38,639.21 431.13,639.19 431.88,639.17 432.64,639.14 433.39,639.12 434.14,639.09 434.89,639.07 435.65,639.05 436.4,639.02 437.15,639 437.91,638.98 438.66,638.96 439.41,638.93 440.17,638.91 440.92,638.89 441.67,638.86 442.43,638.84 443.18,638.82 443.93,638.8 444.68,638.78 445.44,638.75 446.19,638.73 446.94,638.71 447.7,638.69 448.45,638.67 449.2,638.64 449.96,638.62 450.71,638.6 451.46,638.58 452.21,638.56 452.97,638.54 453.72,638.52 454.47,638.5 455.23,638.47 455.98,638.45 456.73,638.43 457.49,638.41 458.24,638.39 458.99,638.37 459.74,638.35 460.5,638.33 461.25,638.31 462,638.29 462.76,638.27 463.51,638.25 464.26,638.23 465.01,638.21 465.77,638.19 466.52,638.17 467.27,638.15 468.03,638.13 468.78,638.11 469.53,638.1 470.29,638.08 471.04,638.06 471.79,638.04 472.55,638.02 473.3,638 474.05,637.98 474.8,637.96 475.56,637.94 476.31,637.93 477.06,637.91 477.82,637.89 478.57,637.87 479.32,637.85 480.08,637.83 480.83,637.82 481.58,637.8 482.33,637.78 483.09,637.76 483.84,637.74 484.59,637.73 485.35,637.71 486.1,637.69 486.85,637.67 487.61,637.66 488.36,637.64 489.11,637.62 489.86,637.6 490.62,637.59 491.37,637.57 492.12,637.55 492.88,637.54 493.63,637.52 494.38,637.5 495.13,637.48 495.89,637.47 496.64,637.45 497.39,637.43 498.15,637.42 498.9,637.4 499.65,637.39 500.41,637.37 501.16,637.35 501.91,637.34 502.66,637.32 503.42,637.3 504.17,637.29 504.92,637.27 505.68,637.26 506.43,637.24 507.18,637.22 507.94,637.21 508.69,637.19 509.44,637.18 510.2,637.16 510.95,637.15 511.7,637.13 512.45,637.12 513.21,637.1 513.96,637.09 514.71,637.07 515.47,637.05 516.22,637.04 516.97,637.02 517.73,637.01 518.48,636.99 519.23,636.98 519.98,636.96 520.74,636.95 521.49,636.94 522.24,636.92 523,636.91 523.75,636.89 524.5,636.88 525.25,636.86 526.01,636.85 526.76,636.83 527.51,636.82 528.27,636.8 529.02,636.79 529.77,636.78" fill="none" stroke="#000" stroke-width="2.2" stroke-linejoin="round"/>
<circle cx="122.6" cy="820.6" r="6" fill="#000"/>
<circle cx="125.2" cy="811" r="6" fill="#000"/>
<circle cx="129.2" cy="789.6" r="6" fill="#000"/>
<circle cx="129.2" cy="794.5" r="6" fill="#000"/>
<circle cx="128.7" cy="766.7" r="6" fill="#000"/>
<circle cx="128.7" cy="772.7" r="6" fill="#000"/>
<circle cx="128.7" cy="777.6" r="6" fill="#000"/>
<circle cx="191.4" cy="623.5" r="6" fill="#000"/>
<circle cx="192.5" cy="648.8" r="6" fill="#000"/>
<circle cx="371.5" cy="633.5" r="6" fill="#000"/>
<circle cx="378.1" cy="636.7" r="6" fill="#000"/>
<circle cx="375" cy="692.7" r="6" fill="#000"/>
<circle cx="523.5" cy="588.8" r="6" fill="#000"/>
<circle cx="532.9" cy="641.4" r="6" fill="#000"/>
<circle cx="522.9" cy="718.4" r="6" fill="#000"/>
<circle cx="152.8" cy="545" r="5.9" fill="#000"/>
<text x="171.99" y="552.8" font-size="23.3" fill="#000" textLength="110.66" lengthAdjust="spacingAndGlyphs">Mo-CODH</text>
<text x="282.53" y="561.8" font-size="14" fill="#000" textLength="18.22" lengthAdjust="spacingAndGlyphs">Ac</text>
<text x="182.62" y="721.1" font-size="23.3" fill="#000" font-style="italic" textLength="14.85" lengthAdjust="spacingAndGlyphs">K</text>
<text x="196.14" y="729.8" font-size="14" fill="#000" textLength="14.73" lengthAdjust="spacingAndGlyphs">m</text>
<text x="214.62" y="721.1" font-size="23.3" fill="#000" textLength="107.6" lengthAdjust="spacingAndGlyphs">= 2.30 µM</text>
<text x="182.07" y="752.8" font-size="23.3" fill="#000" textLength="261.08" lengthAdjust="spacingAndGlyphs">95% CI = 1.36 to 4.22 µM</text>
<text x="182.78" y="783.7" font-size="23.3" fill="#000" font-style="italic" textLength="14.53" lengthAdjust="spacingAndGlyphs">R</text>
<text x="196.32" y="772" font-size="14" fill="#000" textLength="9.25" lengthAdjust="spacingAndGlyphs">2</text>
<text x="212.41" y="783.7" font-size="23.3" fill="#000" textLength="63.55" lengthAdjust="spacingAndGlyphs">= 0.88</text>
<line x1="736.9" y1="487.8" x2="736.9" y2="829.5" stroke="#333" stroke-width="1.5"/>
<line x1="733.4" y1="829.5" x2="1196.8" y2="829.5" stroke="#111" stroke-width="1.5"/>
<line x1="730.4" y1="804.84" x2="736.9" y2="804.84" stroke="#333" stroke-width="1.5"/>
<line x1="733.4" y1="780.45" x2="736.9" y2="780.45" stroke="#333" stroke-width="1.5"/>
<line x1="730.4" y1="756.06" x2="736.9" y2="756.06" stroke="#333" stroke-width="1.5"/>
<line x1="733.4" y1="731.67" x2="736.9" y2="731.67" stroke="#333" stroke-width="1.5"/>
<line x1="730.4" y1="707.28" x2="736.9" y2="707.28" stroke="#333" stroke-width="1.5"/>
<line x1="733.4" y1="682.89" x2="736.9" y2="682.89" stroke="#333" stroke-width="1.5"/>
<line x1="730.4" y1="658.5" x2="736.9" y2="658.5" stroke="#333" stroke-width="1.5"/>
<line x1="733.4" y1="634.11" x2="736.9" y2="634.11" stroke="#333" stroke-width="1.5"/>
<line x1="730.4" y1="609.72" x2="736.9" y2="609.72" stroke="#333" stroke-width="1.5"/>
<line x1="733.4" y1="585.33" x2="736.9" y2="585.33" stroke="#333" stroke-width="1.5"/>
<line x1="730.4" y1="560.94" x2="736.9" y2="560.94" stroke="#333" stroke-width="1.5"/>
<line x1="733.4" y1="536.55" x2="736.9" y2="536.55" stroke="#333" stroke-width="1.5"/>
<line x1="730.4" y1="512.16" x2="736.9" y2="512.16" stroke="#333" stroke-width="1.5"/>
<line x1="733.4" y1="487.77" x2="736.9" y2="487.77" stroke="#333" stroke-width="1.5"/>
<line x1="737.1" y1="829.5" x2="737.1" y2="836.8" stroke="#111" stroke-width="1.5"/>
<line x1="772.35" y1="829.5" x2="772.35" y2="833.5" stroke="#111" stroke-width="1.5"/>
<line x1="807.6" y1="829.5" x2="807.6" y2="836.8" stroke="#111" stroke-width="1.5"/>
<line x1="842.85" y1="829.5" x2="842.85" y2="833.5" stroke="#111" stroke-width="1.5"/>
<line x1="878.1" y1="829.5" x2="878.1" y2="836.8" stroke="#111" stroke-width="1.5"/>
<line x1="913.35" y1="829.5" x2="913.35" y2="833.5" stroke="#111" stroke-width="1.5"/>
<line x1="948.6" y1="829.5" x2="948.6" y2="836.8" stroke="#111" stroke-width="1.5"/>
<line x1="983.85" y1="829.5" x2="983.85" y2="833.5" stroke="#111" stroke-width="1.5"/>
<line x1="1019.1" y1="829.5" x2="1019.1" y2="836.8" stroke="#111" stroke-width="1.5"/>
<line x1="1054.35" y1="829.5" x2="1054.35" y2="833.5" stroke="#111" stroke-width="1.5"/>
<line x1="1089.6" y1="829.5" x2="1089.6" y2="836.8" stroke="#111" stroke-width="1.5"/>
<line x1="1124.85" y1="829.5" x2="1124.85" y2="833.5" stroke="#111" stroke-width="1.5"/>
<line x1="1160.1" y1="829.5" x2="1160.1" y2="836.8" stroke="#111" stroke-width="1.5"/>
<line x1="1195.35" y1="829.5" x2="1195.35" y2="833.5" stroke="#111" stroke-width="1.5"/>
<text x="719.63" y="813.24" font-size="23" fill="#000" text-anchor="end" textLength="47.36" lengthAdjust="spacingAndGlyphs">−0.6</text>
<text x="734.85" y="865.6" font-size="23" fill="#000" text-anchor="middle" textLength="48.98" lengthAdjust="spacingAndGlyphs">−0.6</text>
<text x="719.63" y="764.46" font-size="23" fill="#000" text-anchor="end" textLength="47.36" lengthAdjust="spacingAndGlyphs">−0.4</text>
<text x="805.61" y="865.6" font-size="23" fill="#000" text-anchor="middle" textLength="48.44" lengthAdjust="spacingAndGlyphs">−0.4</text>
<text x="719.63" y="715.68" font-size="23" fill="#000" text-anchor="end" textLength="47.36" lengthAdjust="spacingAndGlyphs">−0.2</text>
<text x="876.11" y="865.6" font-size="23" fill="#000" text-anchor="middle" textLength="48.44" lengthAdjust="spacingAndGlyphs">−0.2</text>
<text x="718.52" y="666.9" font-size="23" fill="#000" text-anchor="end" textLength="15.99" lengthAdjust="spacingAndGlyphs">0</text>
<text x="947.72" y="865.6" font-size="23" fill="#000" text-anchor="middle" textLength="16.53" lengthAdjust="spacingAndGlyphs">0</text>
<text x="718.71" y="618.12" font-size="23" fill="#000" text-anchor="end" textLength="34.87" lengthAdjust="spacingAndGlyphs">0.2</text>
<text x="1018.34" y="865.6" font-size="23" fill="#000" text-anchor="middle" textLength="35.48" lengthAdjust="spacingAndGlyphs">0.2</text>
<text x="718.71" y="569.34" font-size="23" fill="#000" text-anchor="end" textLength="34.87" lengthAdjust="spacingAndGlyphs">0.4</text>
<text x="1088.84" y="865.6" font-size="23" fill="#000" text-anchor="middle" textLength="35.48" lengthAdjust="spacingAndGlyphs">0.4</text>
<text x="718.71" y="520.56" font-size="23" fill="#000" text-anchor="end" textLength="34.87" lengthAdjust="spacingAndGlyphs">0.6</text>
<text x="1159.34" y="865.6" font-size="23" fill="#000" text-anchor="middle" textLength="35.48" lengthAdjust="spacingAndGlyphs">0.6</text>
<text x="966.13" y="910.8" font-size="28.8" fill="#000" text-anchor="middle" textLength="200.89" lengthAdjust="spacingAndGlyphs">E(V) versus SHE</text>
<text transform="translate(649,657.99) rotate(-90)" x="0" y="0" font-size="28.8" text-anchor="middle" textLength="158.71" lengthAdjust="spacingAndGlyphs">Current (µA)</text>
<line x1="766.7" y1="491" x2="827.9" y2="491" stroke="#333" stroke-width="2.2"/>
<line x1="766.7" y1="523.7" x2="827" y2="523.7" stroke="#999" stroke-width="2" stroke-dasharray="6.5 4.5"/>
<text x="837.65" y="498.9" font-size="23.3" fill="#000" textLength="225.49" lengthAdjust="spacingAndGlyphs">Immobilized enzyme</text>
<text x="837.52" y="532.2" font-size="23.3" fill="#000" textLength="60.05" lengthAdjust="spacingAndGlyphs">Blank</text>
<text x="826.49" y="587.6" font-size="23.3" fill="#000" textLength="33.84" lengthAdjust="spacingAndGlyphs">Mo</text>
<path d="M737.3,680 C737.32,676.67 737.35,664.75 737.4,660 C737.45,655.25 737.25,654.33 737.6,651.5 C737.95,648.67 738.58,645.4 739.5,643 C740.42,640.6 740.33,639.72 743.1,637.1 C745.87,634.48 751.75,630.02 756.1,627.3 C760.45,624.58 764.83,622.43 769.2,620.8 C773.57,619.17 777.95,618.48 782.3,617.5 C786.65,616.52 790.95,615.67 795.3,614.9 C799.65,614.13 804.03,613.55 808.4,612.9 C812.77,612.25 817.15,611.58 821.5,611 C825.85,610.42 830.15,609.8 834.5,609.4 C838.85,609 843.23,608.88 847.6,608.6 C851.97,608.32 856.97,607.92 860.7,607.7 C864.43,607.48 864.1,607.87 870,607.3 C875.9,606.73 887.38,605.17 896.1,604.3 C904.82,603.43 913.58,602.87 922.3,602.1 C931.02,601.33 939.7,600.37 948.4,599.7 C957.1,599.03 965.78,598.8 974.5,598.1 C983.22,597.4 990.07,596.73 1000.7,595.5 C1011.33,594.27 1027.32,592.2 1038.3,590.7 C1049.28,589.2 1058.33,588.03 1066.6,586.5 C1074.87,584.97 1080.82,583.52 1087.9,581.5 C1094.98,579.48 1102.02,576.77 1109.1,574.4 C1116.18,572.03 1122.37,570.02 1130.4,567.3 C1138.43,564.58 1152.43,559.98 1157.3,558.1 C1162.17,556.22 1159.22,556.35 1159.6,556 L1159.6,556 C1159.6,563.33 1159.67,587.67 1159.6,600 C1159.53,612.33 1159.35,622.63 1159.2,630 C1159.05,637.37 1159.97,638.3 1158.7,644.2 C1157.43,650.1 1154.2,659.27 1151.6,665.4 C1149,671.53 1146.4,676.52 1143.1,681 C1139.8,685.48 1136.05,689.23 1131.8,692.3 C1127.55,695.37 1122.32,697.47 1117.6,699.4 C1112.88,701.33 1108.22,702.53 1103.5,703.9 C1098.78,705.27 1095.45,706.17 1089.3,707.6 C1083.15,709.03 1076.48,710.33 1066.6,712.5 C1056.72,714.67 1038.27,718.92 1030,720.6 C1021.73,722.28 1021.5,721.87 1017,722.6 C1012.5,723.33 1007.8,724.3 1003,725 C998.2,725.7 993.15,726.27 988.2,726.8 C983.25,727.33 978.12,727.62 973.3,728.2 C968.48,728.78 963.83,729.73 959.3,730.3 C954.77,730.87 950.77,731.13 946.1,731.6 C941.43,732.07 936.25,732.52 931.3,733.1 C926.35,733.68 921.52,734.4 916.4,735.1 C911.28,735.8 905.42,736.72 900.6,737.3 C895.78,737.88 892.23,737.97 887.5,738.6 C882.77,739.23 877.2,740.37 872.2,741.1 C867.2,741.83 862.42,742.23 857.5,743 C852.58,743.77 847.62,744.72 842.7,745.7 C837.78,746.68 832.9,747.95 828,748.9 C823.1,749.85 818.2,750.5 813.3,751.4 C808.4,752.3 803.5,753.17 798.6,754.3 C793.7,755.43 788.8,756.88 783.9,758.2 C779,759.52 774.1,760.88 769.2,762.2 C764.3,763.52 759.65,764.47 754.5,766.1 C749.35,767.73 741,771.02 738.3,772" fill="none" stroke="#9a9a9a" stroke-width="2" stroke-linejoin="round" stroke-linecap="round" stroke-dasharray="7 6.5"/>
<path d="M737.2,658.5 C737.22,656.9 737.2,652.47 737.3,648.9 C737.4,645.33 737.27,640.05 737.8,637.1 C738.33,634.15 738.97,633.05 740.5,631.2 C742.03,629.35 744.4,627.52 747,626 C749.6,624.48 752.4,623.37 756.1,622.1 C759.8,620.83 764.83,619.5 769.2,618.4 C773.57,617.3 777.95,616.35 782.3,615.5 C786.65,614.65 790.95,613.95 795.3,613.3 C799.65,612.65 804.03,612.32 808.4,611.6 C812.77,610.88 817.58,610.02 821.5,609 C825.42,607.98 828.63,606.92 831.9,605.5 C835.17,604.08 838.48,601.88 841.1,600.5 C843.72,599.12 845.22,597.97 847.6,597.2 C849.98,596.43 852.35,596 855.4,595.9 C858.45,595.8 862.85,596.27 865.9,596.6 C868.95,596.93 870.18,597.65 873.7,597.9 C877.22,598.15 882.17,598.28 887,598.1 C891.83,597.92 896.82,597.58 902.7,596.8 C908.58,596.02 915.77,594.65 922.3,593.4 C928.83,592.15 936.47,590.65 941.9,589.3 C947.33,587.95 950.33,586.62 954.9,585.3 C959.47,583.98 964.28,582.32 969.3,581.4 C974.32,580.48 979.77,580.45 985,579.8 C990.23,579.15 994.17,578.63 1000.7,577.5 C1007.23,576.37 1016.75,574.82 1024.2,573 C1031.65,571.18 1038.8,568.32 1045.4,566.6 C1052,564.88 1057.9,563.63 1063.8,562.7 C1069.7,561.77 1075.13,561.88 1080.8,561 C1086.47,560.12 1091.9,558.82 1097.8,557.4 C1103.7,555.98 1110.3,554.62 1116.2,552.5 C1122.1,550.38 1128.02,547.42 1133.2,544.7 C1138.38,541.98 1142.9,538.95 1147.3,536.2 C1151.7,533.45 1157.55,529.53 1159.6,528.2 L1159.6,528.2 C1159.63,533.5 1159.8,548.03 1159.8,560 C1159.8,571.97 1159.7,588.33 1159.6,600 C1159.5,611.67 1159.35,622.63 1159.2,630 C1159.05,637.37 1159.27,639.48 1158.7,644.2 C1158.13,648.92 1156.98,653.82 1155.8,658.3 C1154.62,662.78 1153.25,667.32 1151.6,671.1 C1149.95,674.88 1148.27,677.7 1145.9,681 C1143.53,684.3 1140.7,687.83 1137.4,690.9 C1134.1,693.97 1130.82,696.92 1126.1,699.4 C1121.38,701.88 1115.47,704.03 1109.1,705.8 C1102.73,707.57 1094.98,708.72 1087.9,710 C1080.82,711.28 1074.87,711.85 1066.6,713.5 C1058.33,715.15 1047.73,718.05 1038.3,719.9 C1028.87,721.75 1016.9,723.53 1010,724.6 C1003.1,725.67 1002,725.43 996.9,726.3 C991.8,727.17 984.5,728.7 979.4,729.8 C974.3,730.9 970.67,732.02 966.3,732.9 C961.93,733.78 957.58,734.78 953.2,735.1 C948.82,735.42 945.12,735.07 940,734.8 C934.88,734.53 928.33,733.53 922.5,733.5 C916.67,733.47 911.57,733.53 905,734.6 C898.43,735.67 889.07,738.17 883.1,739.9 C877.13,741.63 872.98,743.33 869.2,745 C865.42,746.67 863.18,748.02 860.4,749.9 C857.62,751.78 854.95,754.25 852.5,756.3 C850.05,758.35 848.15,760.73 845.7,762.2 C843.25,763.67 840.75,764.65 837.8,765.1 C834.85,765.55 831.27,764.87 828,764.9 C824.73,764.93 821.47,764.93 818.2,765.3 C814.93,765.67 813.3,765.9 808.4,767.1 C803.5,768.3 795.33,770.47 788.8,772.5 C782.27,774.53 775.08,776.93 769.2,779.3 C763.32,781.67 757.92,784.57 753.5,786.7 C749.08,788.83 745.42,790.52 742.7,792.1 C739.98,793.68 738.12,795.52 737.2,796.2" fill="none" stroke="#222" stroke-width="2.2" stroke-linejoin="round" stroke-linecap="round"/>
<text x="964.3" y="577.9" font-size="34" fill="#000" stroke="#000" stroke-width="0.5" stroke-linejoin="round">*</text>
<text x="1046.1" y="560.1" font-size="34" fill="#000" stroke="#000" stroke-width="0.5" stroke-linejoin="round">*</text>
<text x="1060.8" y="562.3" font-size="33" fill="#000" font-weight="bold">'</text>
<line x1="1345.1" y1="483.7" x2="1345.1" y2="828.8" stroke="#333" stroke-width="1.5"/>
<line x1="1344.7" y1="828.8" x2="1809.2" y2="828.8" stroke="#333" stroke-width="1.5"/>
<line x1="1338.1" y1="814.75" x2="1345.1" y2="814.75" stroke="#333" stroke-width="1.5"/>
<line x1="1341.3" y1="778.77" x2="1345.1" y2="778.77" stroke="#333" stroke-width="1.5"/>
<line x1="1338.1" y1="742.8" x2="1345.1" y2="742.8" stroke="#333" stroke-width="1.5"/>
<line x1="1341.3" y1="706.82" x2="1345.1" y2="706.82" stroke="#333" stroke-width="1.5"/>
<line x1="1338.1" y1="670.85" x2="1345.1" y2="670.85" stroke="#333" stroke-width="1.5"/>
<line x1="1341.3" y1="634.88" x2="1345.1" y2="634.88" stroke="#333" stroke-width="1.5"/>
<line x1="1338.1" y1="598.9" x2="1345.1" y2="598.9" stroke="#333" stroke-width="1.5"/>
<line x1="1341.3" y1="562.92" x2="1345.1" y2="562.92" stroke="#333" stroke-width="1.5"/>
<line x1="1338.1" y1="526.95" x2="1345.1" y2="526.95" stroke="#333" stroke-width="1.5"/>
<line x1="1341.3" y1="490.97" x2="1345.1" y2="490.97" stroke="#333" stroke-width="1.5"/>
<line x1="1344.35" y1="828.8" x2="1344.35" y2="832.8" stroke="#333" stroke-width="1.5"/>
<line x1="1383.1" y1="828.8" x2="1383.1" y2="836.4" stroke="#333" stroke-width="1.5"/>
<line x1="1421.85" y1="828.8" x2="1421.85" y2="832.8" stroke="#333" stroke-width="1.5"/>
<line x1="1460.6" y1="828.8" x2="1460.6" y2="836.4" stroke="#333" stroke-width="1.5"/>
<line x1="1499.35" y1="828.8" x2="1499.35" y2="832.8" stroke="#333" stroke-width="1.5"/>
<line x1="1538.1" y1="828.8" x2="1538.1" y2="836.4" stroke="#333" stroke-width="1.5"/>
<line x1="1576.85" y1="828.8" x2="1576.85" y2="832.8" stroke="#333" stroke-width="1.5"/>
<line x1="1615.6" y1="828.8" x2="1615.6" y2="836.4" stroke="#333" stroke-width="1.5"/>
<line x1="1654.35" y1="828.8" x2="1654.35" y2="832.8" stroke="#333" stroke-width="1.5"/>
<line x1="1693.1" y1="828.8" x2="1693.1" y2="836.4" stroke="#333" stroke-width="1.5"/>
<line x1="1731.85" y1="828.8" x2="1731.85" y2="832.8" stroke="#333" stroke-width="1.5"/>
<line x1="1770.6" y1="828.8" x2="1770.6" y2="836.4" stroke="#333" stroke-width="1.5"/>
<line x1="1809.35" y1="828.8" x2="1809.35" y2="832.8" stroke="#333" stroke-width="1.5"/>
<text x="1326.67" y="824.65" font-size="23" fill="#000" text-anchor="end" textLength="48.43" lengthAdjust="spacingAndGlyphs">−0.5</text>
<text x="1326.54" y="752.7" font-size="23" fill="#000" text-anchor="end" textLength="12.6" lengthAdjust="spacingAndGlyphs">0</text>
<text x="1326.54" y="680.75" font-size="23" fill="#000" text-anchor="end" textLength="31.5" lengthAdjust="spacingAndGlyphs">0.5</text>
<text x="1326.54" y="608.8" font-size="23" fill="#000" text-anchor="end" textLength="31.5" lengthAdjust="spacingAndGlyphs">1.0</text>
<text x="1326.54" y="536.85" font-size="23" fill="#000" text-anchor="end" textLength="31.5" lengthAdjust="spacingAndGlyphs">1.5</text>
<text x="1383.35" y="866" font-size="23" fill="#000" text-anchor="middle" textLength="47.94" lengthAdjust="spacingAndGlyphs">−0.8</text>
<text x="1460.85" y="866" font-size="23" fill="#000" text-anchor="middle" textLength="47.94" lengthAdjust="spacingAndGlyphs">−0.6</text>
<text x="1538.35" y="866" font-size="23" fill="#000" text-anchor="middle" textLength="47.94" lengthAdjust="spacingAndGlyphs">−0.4</text>
<text x="1615.85" y="866" font-size="23" fill="#000" text-anchor="middle" textLength="47.94" lengthAdjust="spacingAndGlyphs">−0.2</text>
<text x="1693.09" y="866" font-size="23" fill="#000" text-anchor="middle" textLength="13.95" lengthAdjust="spacingAndGlyphs">0</text>
<text x="1770.59" y="866" font-size="23" fill="#000" text-anchor="middle" textLength="34.87" lengthAdjust="spacingAndGlyphs">0.2</text>
<text x="1576.69" y="911.1" font-size="28.8" fill="#000" text-anchor="middle" textLength="200.92" lengthAdjust="spacingAndGlyphs">E(V) versus SHE</text>
<text transform="translate(1267.3,657.25) rotate(-90)" x="0" y="0" font-size="28.8" text-anchor="middle" textLength="156.6" lengthAdjust="spacingAndGlyphs">Current (µA)</text>
<line x1="1361" y1="493.8" x2="1422.9" y2="493.8" stroke="#E8000C" stroke-width="2.2"/>
<line x1="1361" y1="534.7" x2="1422.9" y2="534.7" stroke="#1E1E1E" stroke-width="2.2"/>
<line x1="1361" y1="577.6" x2="1422.9" y2="577.6" stroke="#2B2E8F" stroke-width="2.2"/>
<text x="1433.81" y="501.9" font-size="23.3" fill="#000" textLength="105.34" lengthAdjust="spacingAndGlyphs">100 % CO</text>
<text x="1434.78" y="542.9" font-size="23.3" fill="#000" textLength="85.65" lengthAdjust="spacingAndGlyphs">100 % N</text>
<text x="1518.53" y="551.8" font-size="14" fill="#000" textLength="10.97" lengthAdjust="spacingAndGlyphs">2</text>
<text x="1433.81" y="586.1" font-size="23.3" fill="#000" textLength="105.34" lengthAdjust="spacingAndGlyphs">100 % CO</text>
<text x="1537.98" y="594.6" font-size="14" fill="#000" textLength="9.83" lengthAdjust="spacingAndGlyphs">2</text>
<path d="M1382.6,778 C1382.67,775.83 1382.03,769.03 1383,765 C1383.97,760.97 1385.85,756.85 1388.4,753.8 C1390.95,750.75 1394.28,748.93 1398.3,746.7 C1402.32,744.47 1405.55,741.9 1412.5,740.4 C1419.45,738.9 1429.42,738.9 1440,737.7 C1450.58,736.5 1464.02,734.35 1476,733.2 C1487.98,732.05 1498.03,731.95 1511.9,730.8 C1525.77,729.65 1544.78,727.65 1559.2,726.3 C1573.62,724.95 1586.97,724.02 1598.4,722.7 C1609.83,721.38 1617.98,720.1 1627.8,718.4 C1637.62,716.7 1649.93,713.75 1657.3,712.5 C1664.67,711.25 1667.55,711.08 1672,710.9 C1676.45,710.72 1679.42,711.05 1684,711.4 C1688.58,711.75 1694.52,712.83 1699.5,713 C1704.48,713.17 1708.5,713.2 1713.9,712.4 C1719.3,711.6 1725.9,710 1731.9,708.2 C1737.9,706.4 1744.02,703.87 1749.9,701.6 C1755.78,699.33 1764.32,695.77 1767.2,694.6 L1767.2,694.6 C1767.3,698.15 1767.8,709.95 1767.8,715.9 C1767.8,721.85 1767.8,725.9 1767.2,730.3 C1766.6,734.7 1765.7,738.5 1764.2,742.3 C1762.7,746.1 1760.78,749.9 1758.2,753.1 C1755.62,756.3 1753.08,759.1 1748.7,761.5 C1744.32,763.9 1738.7,765.7 1731.9,767.5 C1725.1,769.3 1715.88,771 1707.9,772.3 C1699.92,773.6 1691.98,774.55 1684,775.3 C1676.02,776.05 1667.73,776.47 1660,776.8 C1652.27,777.13 1647.87,776.63 1637.6,777.3 C1627.33,777.97 1611.47,779.77 1598.4,780.8 C1585.33,781.83 1573.62,782.65 1559.2,783.5 C1544.78,784.35 1525.77,784.9 1511.9,785.9 C1498.03,786.9 1487.98,787.8 1476,789.5 C1464.02,791.2 1450.58,794.38 1440,796.1 C1429.42,797.82 1422.05,798.07 1412.5,799.8 C1402.95,801.53 1387.67,805.38 1382.7,806.5" fill="none" stroke="#1E1E1E" stroke-width="2" stroke-linejoin="round" stroke-linecap="round"/>
<path d="M1386.5,789.3 C1386.52,787.25 1386.42,780.25 1386.6,777 C1386.78,773.75 1386.93,771.87 1387.6,769.8 C1388.27,767.73 1389.28,766.27 1390.6,764.6 C1391.92,762.93 1393.6,761.35 1395.5,759.8 C1397.4,758.25 1399.17,756.93 1402,755.3 C1404.83,753.67 1408.4,751.67 1412.5,750 C1416.6,748.33 1422.02,746.72 1426.6,745.3 C1431.18,743.88 1433.77,743.02 1440,741.5 C1446.23,739.98 1456,737.83 1464,736.2 C1472,734.57 1481,733.05 1488,731.7 C1495,730.35 1500.42,729.15 1506,728.1 C1511.58,727.05 1516.92,726.65 1521.5,725.4 C1526.08,724.15 1529.9,722.7 1533.5,720.6 C1537.1,718.5 1540.3,715.7 1543.1,712.8 C1545.9,709.9 1547.73,707.82 1550.3,703.2 C1552.87,698.58 1556.03,691.38 1558.5,685.1 C1560.97,678.82 1562.95,674.27 1565.1,665.5 C1567.25,656.73 1569.2,642.07 1571.4,632.5 C1573.6,622.93 1575.98,615.08 1578.3,608.1 C1580.62,601.12 1582.68,596.12 1585.3,590.6 C1587.92,585.08 1590.52,579.93 1594,575 C1597.48,570.07 1601.55,565.22 1606.2,561 C1610.85,556.78 1616.67,553.18 1621.9,549.7 C1627.13,546.22 1632.67,542.57 1637.6,540.1 C1642.53,537.63 1647.43,535.48 1651.5,534.9 C1655.57,534.32 1658.5,535.73 1662,536.6 C1665.5,537.47 1668.72,539.37 1672.5,540.1 C1676.28,540.83 1680.18,541.18 1684.7,541 C1689.22,540.82 1693.85,540.05 1699.6,539 C1705.35,537.95 1712.67,536.72 1719.2,534.7 C1725.73,532.68 1732.92,530.17 1738.8,526.9 C1744.68,523.63 1750.25,519.35 1754.5,515.1 C1758.75,510.85 1761.52,506.03 1764.3,501.4 C1767.08,496.77 1770.05,489.65 1771.2,487.3 L1771.2,487.3 C1771.3,494.22 1771.97,517.95 1771.8,528.8 C1771.63,539.65 1771.12,544.55 1770.2,552.4 C1769.28,560.25 1768.27,568.72 1766.3,575.9 C1764.33,583.08 1761.67,589.95 1758.4,595.5 C1755.13,601.05 1751.6,605.45 1746.7,609.2 C1741.8,612.95 1735.22,615.97 1729,618 C1722.78,620.03 1717.57,620.9 1709.4,621.4 C1701.23,621.9 1686.15,621.13 1680,621 C1673.85,620.87 1677.25,620.43 1672.5,620.6 C1667.75,620.77 1658.48,621.03 1651.5,622 C1644.52,622.97 1636.98,624.37 1630.6,626.4 C1624.22,628.43 1618.42,630.87 1613.2,634.2 C1607.98,637.53 1602.93,642.1 1599.3,646.4 C1595.67,650.7 1594.17,654.53 1591.4,660 C1588.63,665.47 1585.45,672.08 1582.7,679.2 C1579.95,686.32 1577.18,695.5 1574.9,702.7 C1572.62,709.9 1570.97,715.85 1569,722.4 C1567.03,728.95 1565.42,735.42 1563.1,742 C1560.78,748.58 1557.63,756.58 1555.1,761.9 C1552.57,767.22 1551.1,770.3 1547.9,773.9 C1544.7,777.5 1540.9,780.9 1535.9,783.5 C1530.9,786.1 1524.32,788.32 1517.9,789.5 C1511.48,790.68 1505.53,789.65 1497.4,790.6 C1489.27,791.55 1478.53,793.32 1469.1,795.2 C1459.67,797.08 1450.23,799.72 1440.8,801.9 C1431.37,804.08 1421.52,806.4 1412.5,808.3 C1403.48,810.2 1391,812.47 1386.7,813.3" fill="none" stroke="#E8000C" stroke-width="2.1" stroke-linejoin="round" stroke-linecap="round"/>
<path d="M1767.8,752.5 C1767.8,753.7 1768.6,758 1767.8,759.7 C1767,761.4 1766.98,761.7 1763,762.7 C1759.02,763.7 1751.08,765 1743.9,765.7 C1736.72,766.4 1727.88,766.5 1719.9,766.9 C1711.92,767.3 1701.98,767.4 1696,768.1 C1690.02,768.8 1688,770.1 1684,771.1 C1680,772.1 1676,773.3 1672,774.1 C1668,774.9 1663.77,775.37 1660,775.9 C1656.23,776.43 1653.13,776.35 1649.4,777.3 C1645.67,778.25 1641.85,780.3 1637.6,781.6 C1633.35,782.9 1628.47,784.85 1623.9,785.1 C1619.33,785.35 1614.45,783.68 1610.2,783.1 C1605.95,782.52 1606.9,781.6 1598.4,781.6 C1589.9,781.6 1569.62,782.48 1559.2,783.1 C1548.78,783.72 1545.77,784.03 1535.9,785.3 C1526.03,786.57 1509.98,789.5 1500,790.7 C1490.02,791.9 1483.5,792.28 1476,792.5 C1468.5,792.72 1462.05,792.32 1455,792 C1447.95,791.68 1440.78,790.8 1433.7,790.6 C1426.62,790.4 1417.78,790.52 1412.5,790.8 C1407.22,791.08 1405.85,791.18 1402,792.3 C1398.15,793.42 1392.62,796.08 1389.4,797.5 C1386.18,798.92 1383.82,800.25 1382.7,800.8 L1382.7,800.8 C1382.7,797.33 1382.67,785.72 1382.7,780 C1382.73,774.28 1381.95,770.4 1382.9,766.5 C1383.85,762.6 1385.83,759.9 1388.4,756.6 C1390.97,753.3 1394.28,749.65 1398.3,746.7 C1402.32,743.75 1406.6,740.97 1412.5,738.9 C1418.4,736.83 1424.27,735.63 1433.7,734.3 C1443.13,732.97 1456.07,731.93 1469.1,730.9 C1482.13,729.87 1496.88,729.03 1511.9,728.1 C1526.92,727.17 1544.78,726.42 1559.2,725.3 C1573.62,724.18 1589.25,722.87 1598.4,721.4 C1607.55,719.93 1608.87,718.47 1614.1,716.5 C1619.33,714.53 1625.22,711.13 1629.8,709.6 C1634.38,708.07 1637.02,707.47 1641.6,707.3 C1646.18,707.13 1653.38,708.45 1657.3,708.6 C1661.22,708.75 1662.65,708.57 1665.1,708.2 C1667.55,707.83 1669.25,706.97 1672,706.4 C1674.75,705.83 1678.8,704.8 1681.6,704.8 C1684.4,704.8 1686.4,705.43 1688.8,706.4 C1691.2,707.37 1693.42,709.42 1696,710.6 C1698.58,711.78 1701.32,712.92 1704.3,713.5 C1707.28,714.08 1709.3,714.58 1713.9,714.1 C1718.5,713.62 1725.9,712.48 1731.9,710.6 C1737.9,708.72 1744.12,705.4 1749.9,702.8 C1755.68,700.2 1763.82,696.3 1766.6,695" fill="none" stroke="#2B2E8F" stroke-width="2" stroke-linejoin="round" stroke-linecap="round"/>
</svg>
</body></html>
